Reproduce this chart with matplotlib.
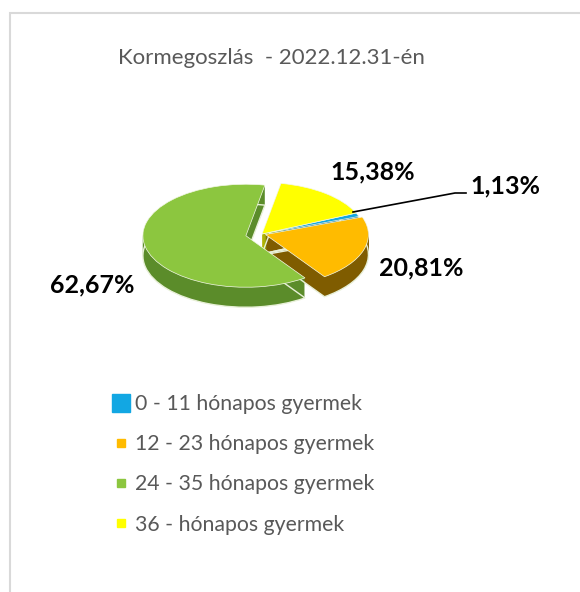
import numpy as np
import matplotlib.pyplot as plt
from matplotlib.lines import Line2D
from matplotlib.patches import Rectangle

# data
categories = ['0 - 11 hónapos gyermek', '12 - 23 hónapos gyermek',
              '24 - 35 hónapos gyermek', '36 - hónapos gyermek']
shares = [1.13, 20.81, 62.67, 15.38]
labels = ['1,13%', '20,81%', '62,67%', '15,38%']
title = 'Kormegoszlás  - 2022.12.31-én'

top_colors = ['#12a7e3', '#ffbb00', '#8cc63f', '#ffff00']
side_colors = ['#0a6f99', '#7f5c00', '#5b8c2a', '#b3b300']
explode = [0.0, 0.035, 0.16, 0.0]

W, H = 580, 592
fig = plt.figure(figsize=(W / 100, H / 100), dpi=100)

# outer frame (chart area border, partly cut off)
fig.patches.append(Rectangle((10 / W, -0.1), 1.2, 1 - 13 / H + 0.1,
                             transform=fig.transFigure, fill=False,
                             edgecolor='#d9d9d9', linewidth=1.5))

# axes in pixel units, y doubled to flatten the pie
ax = fig.add_axes([0, 0, 1, 1])

cx, cy = 262, 2 * (H - 234)
r = 103
depth = 40  # in y units (= 20 px)
expl = [e * r for e in explode]

# side walls: stack of darker pies
for d in range(depth, 0, -2):
    ax.pie(shares, colors=side_colors, startangle=24, counterclock=False,
           radius=r, center=(cx, cy - d), explode=expl,
           wedgeprops=dict(linewidth=0), frame=True)
# bottom rim highlight
ax.pie(shares, colors=['none'] * 4, startangle=24, counterclock=False,
       radius=r, center=(cx, cy - depth), explode=expl,
       wedgeprops=dict(linewidth=1.0, edgecolor='#e8f0d8'), frame=True)
# top surface
ax.pie(shares, colors=top_colors, startangle=24, counterclock=False,
       radius=r, center=(cx, cy), explode=expl,
       wedgeprops=dict(linewidth=0.5, edgecolor='#f4f8e8'), frame=True)
ax.set_aspect('auto')
ax.set_xlim(0, W)
ax.set_ylim(0, 2 * H)
ax.axis('off')

# title
fig.text(271 / W, 1 - 58 / H, title, ha='center', va='center',
         fontsize=16, color='#595959', family='Lato')

# data labels
lab_pos = [(505, 186), (421, 268), (92, 285), (373, 172)]
for txt, (x, y) in zip(labels, lab_pos):
    fig.text(x / W, 1 - y / H, txt, ha='center', va='center',
             fontsize=18, fontweight='bold', color='black', family='Lato')

# leader line for the small slice
ax.plot([353, 455, 466], [2 * (H - 212), 2 * (H - 193), 2 * (H - 193)],
        color='black', linewidth=1.2)

# legend
handles = []
for i, c in enumerate(top_colors):
    ms = 13 if i == 0 else 6
    handles.append(Line2D([], [], linestyle='none', marker='s', markersize=ms,
                          markerfacecolor=c, markeredgecolor=c))
leg = fig.legend(handles, categories, loc='upper left',
                 bbox_to_anchor=(91 / W, 1 - 375 / H), frameon=False,
                 handlelength=1.0, handletextpad=0.15, labelspacing=0.95,
                 prop=dict(family='Lato', size=15.3))
for t in leg.get_texts():
    t.set_color('#595959')

fig.savefig('out.png', dpi=100)
